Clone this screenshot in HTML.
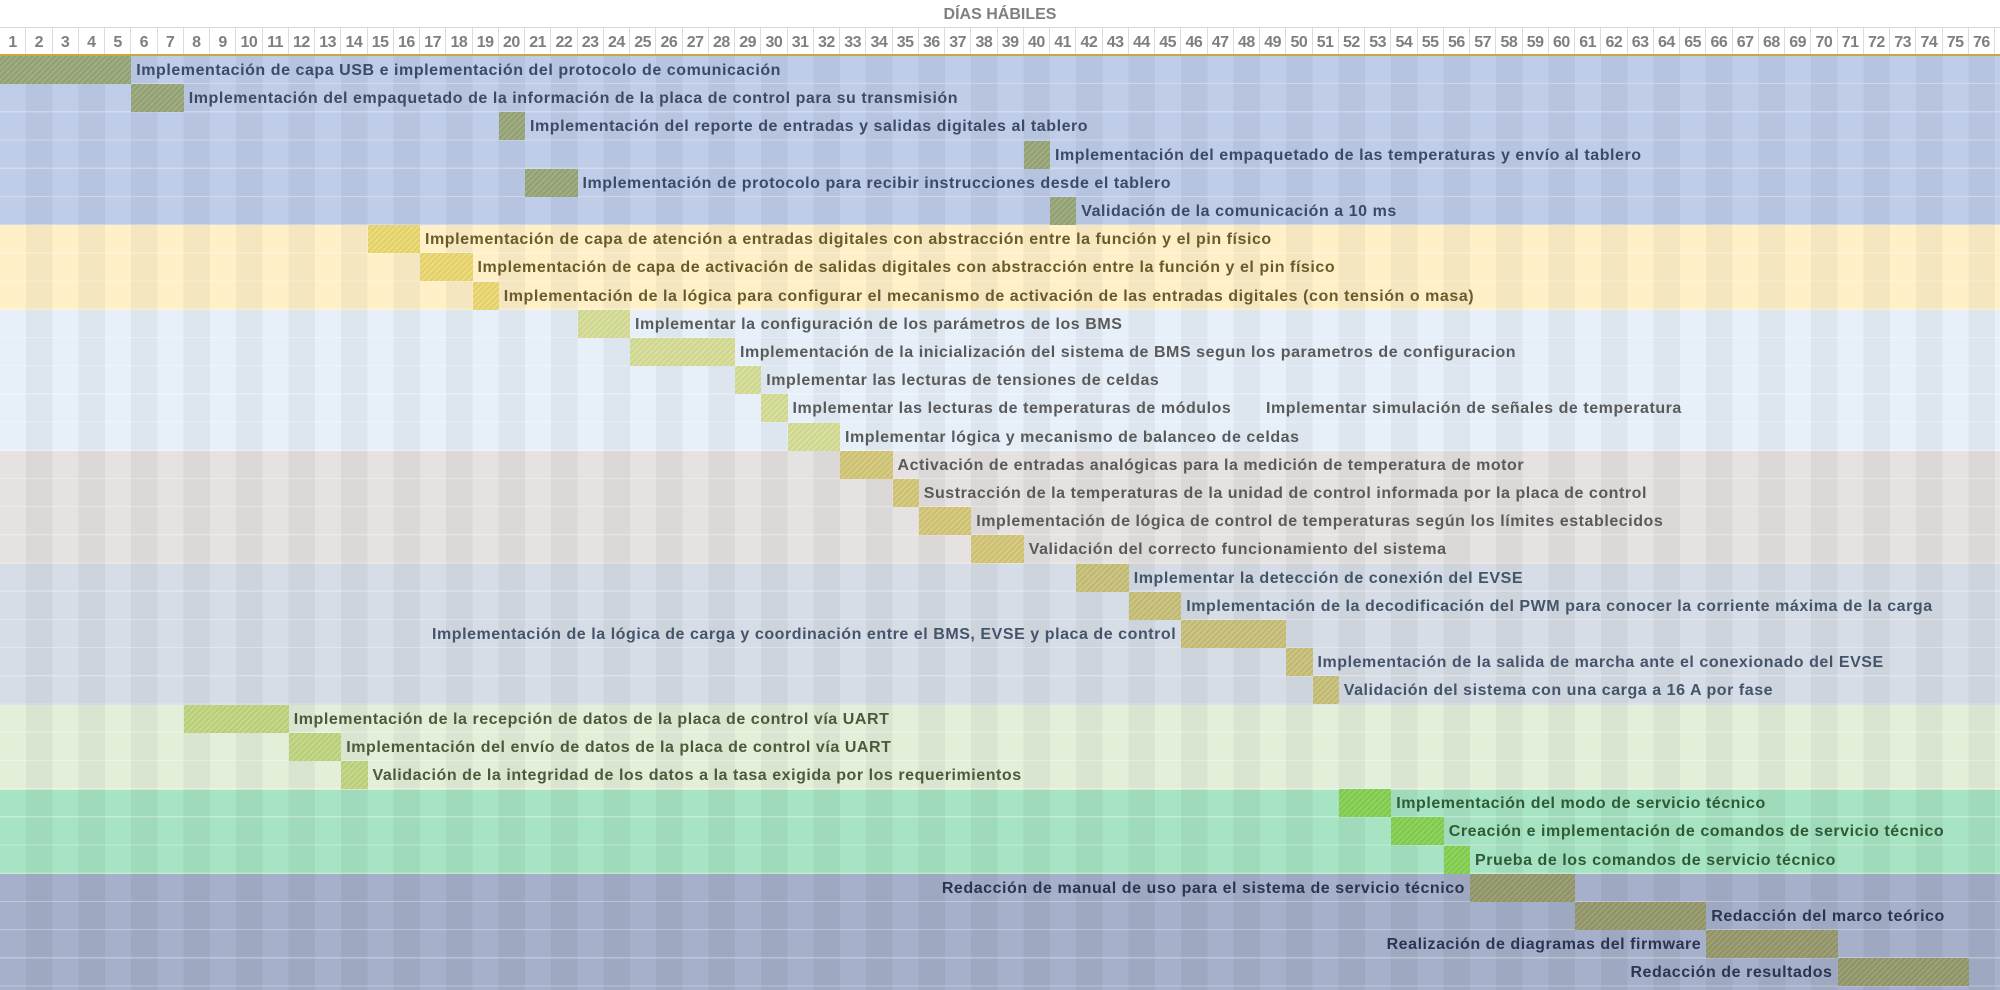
<!DOCTYPE html>
<html><head><meta charset="utf-8">
<style>
*{margin:0;padding:0;box-sizing:border-box}
body{width:2000px;height:990px;overflow:hidden;background:#fff;font-family:"Liberation Sans",sans-serif;position:relative}
.title{position:absolute;left:0;top:0;width:2000px;height:28px;border-bottom:1px solid #d9d9d9;text-align:center;font-weight:bold;color:#7f7f7f;font-size:16px;line-height:30px}
.nums{position:absolute;left:0;top:28px;width:2000px;height:28px;border-bottom:2px solid #c9a640}
.nums div{position:absolute;top:0;height:26px;width:26.25px;border-right:1px solid #dcdcdc;text-align:center;font-weight:bold;color:#7f7f7f;font-size:16px;line-height:30px;letter-spacing:-0.5px}
.sec{position:absolute;left:0;width:2000px}
.stripes{position:absolute;left:0;top:56px;width:2000px;height:934px;background:repeating-linear-gradient(90deg,rgba(255,255,255,0) 0,rgba(255,255,255,0) 26.25px,rgba(0,0,0,0.045) 26.25px,rgba(0,0,0,0.045) 52.5px)}
.rows{position:absolute;left:0;top:56px;width:2000px;height:934px;background:repeating-linear-gradient(180deg,rgba(255,255,255,0) 0,rgba(255,255,255,0) 27px,rgba(255,255,255,0.3) 27px,rgba(255,255,255,0.3) 28.2px)}
.bar{position:absolute;height:28px}
.lbl{position:absolute;font-size:16px;font-weight:bold;line-height:29px;white-space:nowrap;letter-spacing:0.55px}
.r{text-align:right}
</style></head><body>
<div class="title">DÍAS HÁBILES</div>
<div class="nums" id="nums"></div>

<div class="sec" style="top:56px;height:170px;background:#bfcde9"></div>
<div class="sec" style="top:225px;height:85px;background:#fff0c8"></div>
<div class="sec" style="top:310px;height:142px;background:#e7eff9"></div>
<div class="sec" style="top:451px;height:113px;background:#e5e2e1"></div>
<div class="sec" style="top:564px;height:141px;background:#d6dde6"></div>
<div class="sec" style="top:705px;height:85px;background:#e3efd9"></div>
<div class="sec" style="top:790px;height:85px;background:#a6e4c3"></div>
<div class="sec" style="top:874px;height:116px;background:#a6b0ca"></div>
<div class="stripes"></div>
<div class="rows"></div>

<div id="tasks"></div>
<script>
var n=document.getElementById('nums'),h='';
for(var i=1;i<=76;i++){h+='<div style="left:'+((i-1)*26.25)+'px">'+i+'</div>';}
n.innerHTML=h;
var S={b:['#a3ad82','#8fa074','#3d4a66'],y:['#eedc7a','#e0cf6c','#6b5b2b'],l:['#d9e0a0','#cdd58f','#5a5a5a'],g:['#d8cc84','#cbbf72','#5a5a5a'],s:['#cdc584','#bfb872','#44546a'],lg:['#c6d88a','#b9cc7a','#4a5a3a'],gr:['#8fd45e','#7fc850','#2f5a36'],p:['#9ea078','#8e9266','#2b3552']};
var T=[
['b',1,5,'Implementación de capa USB e implementación del protocolo de comunicación'],
['b',6,2,'Implementación del empaquetado de la información de la placa de control para su transmisión'],
['b',20,1,'Implementación del reporte de entradas y salidas digitales al tablero'],
['b',40,1,'Implementación del empaquetado de las temperaturas y envío al tablero'],
['b',21,2,'Implementación de protocolo para recibir instrucciones desde el tablero'],
['b',41,1,'Validación de la comunicación a 10 ms'],
['y',15,2,'Implementación de capa de atención a entradas digitales con abstracción entre la función y el pin físico'],
['y',17,2,'Implementación de capa de activación de salidas digitales con abstracción entre la función y el pin físico'],
['y',19,1,'Implementación de la lógica para configurar el mecanismo de activación de las entradas digitales (con tensión o masa)'],
['l',23,2,'Implementar la configuración de los parámetros de los BMS'],
['l',25,4,'Implementación de la inicialización del sistema de BMS segun los parametros de configuracion'],
['l',29,1,'Implementar las lecturas de tensiones de celdas'],
['l',30,1,'Implementar las lecturas de temperaturas de módulos'],
['l',31,2,'Implementar lógica y mecanismo de balanceo de celdas'],
['g',33,2,'Activación de entradas analógicas para la medición de temperatura de motor'],
['g',35,1,'Sustracción de la temperaturas de la unidad de control informada por la placa de control'],
['g',36,2,'Implementación de lógica de control de temperaturas según los límites establecidos'],
['g',38,2,'Validación del correcto funcionamiento del sistema'],
['s',42,2,'Implementar la detección de conexión del EVSE'],
['s',44,2,'Implementación de la decodificación del PWM para conocer la corriente máxima de la carga'],
['s',46,4,'Implementación de la lógica de carga y coordinación entre el BMS, EVSE y placa de control','L'],
['s',50,1,'Implementación de la salida de marcha ante el conexionado del EVSE'],
['s',51,1,'Validación del sistema con una carga a 16 A por fase'],
['lg',8,4,'Implementación de la recepción de datos de la placa de control vía UART'],
['lg',12,2,'Implementación del envío de datos de la placa de control vía UART'],
['lg',14,1,'Validación de la integridad de los datos a la tasa exigida por los requerimientos'],
['gr',52,2,'Implementación del modo de servicio técnico'],
['gr',54,2,'Creación e implementación de comandos de servicio técnico'],
['gr',56,1,'Prueba de los comandos de servicio técnico'],
['p',57,4,'Redacción de manual de uso para el sistema de servicio técnico','L'],
['p',61,5,'Redacción del marco teórico'],
['p',66,5,'Realización de diagramas del firmware','L'],
['p',71,5,'Redacción de resultados','L']
];
var o='';
T.forEach(function(t,i){
 var c=S[t[0]],x=(t[1]-1)*26.25,w=t[2]*26.25,y=56+i*28.2;
 o+='<div class="bar" style="left:'+x+'px;top:'+y+'px;width:'+w+'px;background:repeating-linear-gradient(135deg,'+c[0]+' 0,'+c[0]+' 2px,'+c[1]+' 2px,'+c[1]+' 4px)"></div>';
 if(t[4]=='L'){o+='<div class="lbl r" style="right:'+(2000-x+5)+'px;top:'+y+'px;color:'+c[2]+'">'+t[3]+'</div>';}
 else{o+='<div class="lbl" style="left:'+(x+w+5)+'px;top:'+y+'px;color:'+c[2]+'">'+t[3]+'</div>';}
 if(i==12){o+='<div class="lbl" style="left:1266px;top:'+y+'px;color:#5a5a5a">Implementar simulación de señales de temperatura</div>';}
});
document.getElementById('tasks').innerHTML=o;
</script>
</body></html>
